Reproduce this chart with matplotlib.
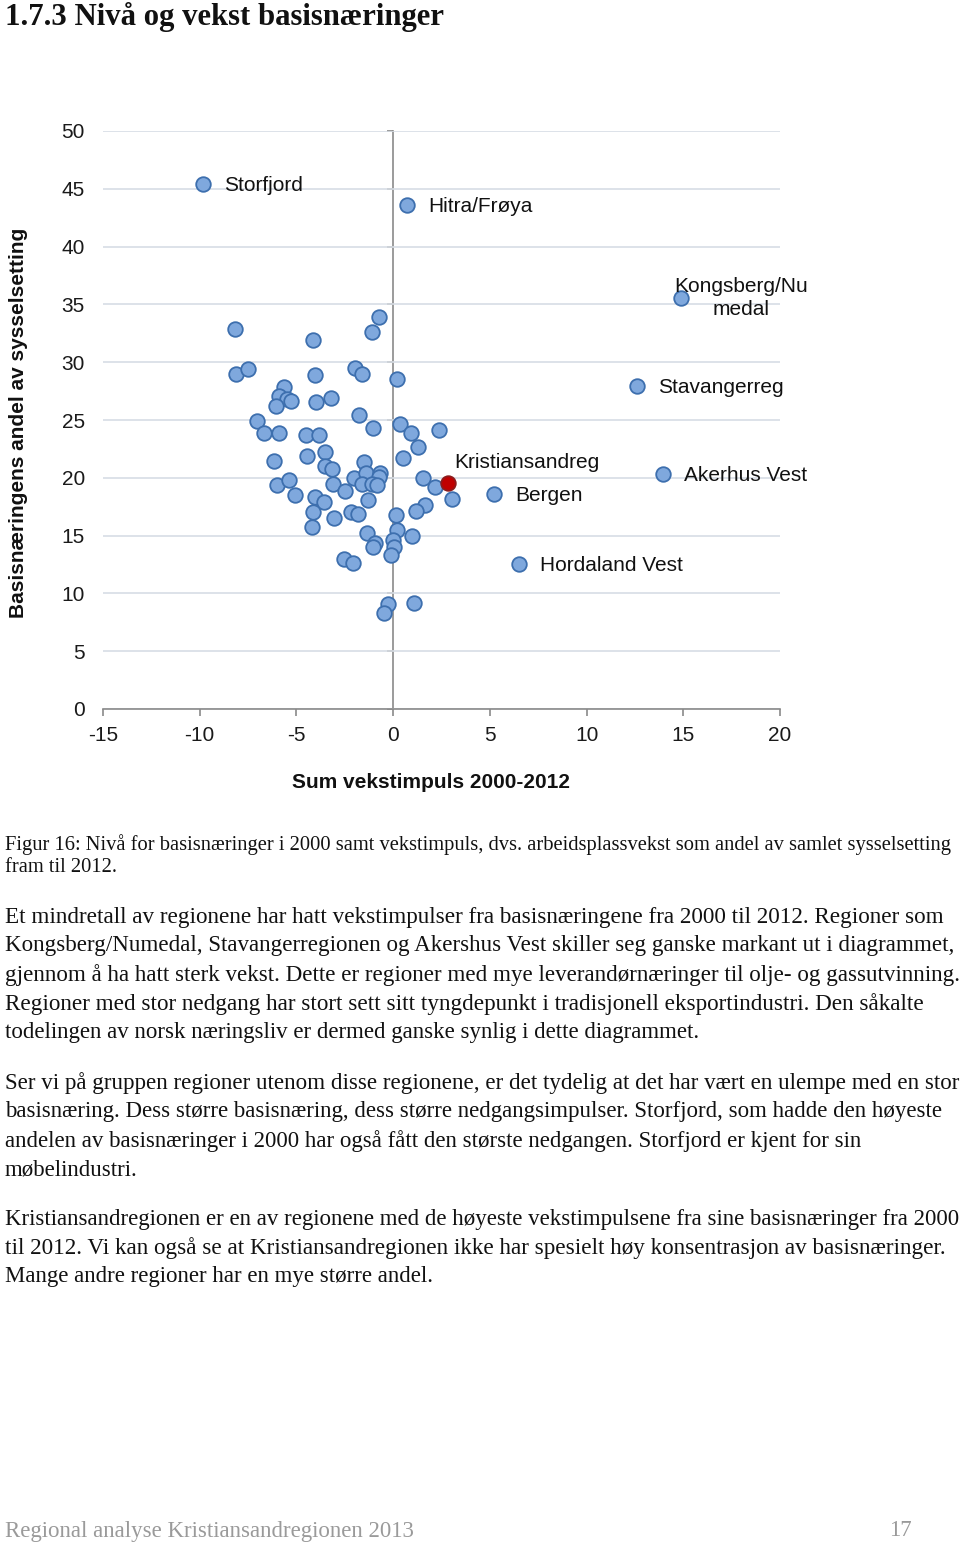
import matplotlib
matplotlib.use("Agg")
import matplotlib.pyplot as plt

plt.rcParams["axes.unicode_minus"] = False

# ---------------- data ----------------
# unlabeled regions: (vekstimpuls, andel basisnæringer)
other_x = [-8.17, -4.14, -0.71, -1.09, -8.12, -7.48, -4.03, -1.96, -1.59, 0.21,
           -5.65, -5.91, -5.50, -5.29, -6.07, -3.97, -3.21, -1.74, -1.05, -7.03,
           -6.67, -5.91, -4.48, -3.81, 0.33, 0.92, 1.31, 2.39, -6.14, -4.43,
           -3.50, -3.50, -3.17, -1.50, 0.50, -2.02, -1.41, -0.67, -0.71, -1.62,
           -1.10, -0.84, -3.12, -2.48, -6.01, -5.39, -5.07, -4.03, -3.60, -4.14,
           -4.20, -3.05, -1.31, -2.19, -1.83, 1.53, 2.14, 3.05, 1.65, 1.19,
           0.13, 0.21, -1.33, -0.93, -1.05, -0.02, 0.02, -0.12, 1.00, -2.53,
           -2.08, -0.26, -0.47, 1.10]
other_y = [32.85, 31.92, 33.94, 32.64, 28.98, 29.39, 28.89, 29.52, 28.95, 28.57,
           27.83, 27.08, 26.79, 26.64, 26.21, 26.58, 26.88, 25.46, 24.28, 24.94,
           23.88, 23.88, 23.73, 23.73, 24.65, 23.85, 22.69, 24.13, 21.48, 21.89,
           22.26, 21.05, 20.76, 21.37, 21.69, 20.01, 20.39, 20.39, 20.10, 19.46,
           19.44, 19.40, 19.44, 18.88, 19.40, 19.78, 18.51, 18.37, 17.91, 17.04,
           15.77, 16.50, 18.05, 17.02, 16.89, 19.96, 19.18, 18.14, 17.62, 17.13,
           16.74, 15.48, 15.20, 14.33, 13.99, 14.62, 13.99, 13.35, 14.97, 12.95,
           12.60, 9.08, 8.28, 9.20]

labeled_names = ["Storfjord", "Hitra/Frøya", "Kongsberg/Nu\nmedal", "Stavangerreg",
                 "Akerhus Vest", "Bergen", "Hordaland Vest"]
labeled_x = [-9.82, 0.72, 14.89, 12.62, 13.96, 5.22, 6.51]
labeled_y = [45.4, 43.6, 35.55, 27.94, 20.33, 18.6, 12.54]

highlight_name = "Kristiansandreg"
highlight_x = [2.82]
highlight_y = [19.55]

x_ticks = [-15, -10, -5, 0, 5, 10, 15, 20]
y_ticks = [0, 5, 10, 15, 20, 25, 30, 35, 40, 45, 50]

title = "1.7.3 Nivå og vekst basisnæringer"
caption = ["Figur 16: Nivå for basisnæringer i 2000 samt vekstimpuls, dvs. arbeidsplassvekst som andel av samlet sysselsetting",
           "fram til 2012."]
paragraphs = [
    ["Et mindretall av regionene har hatt vekstimpulser fra basisnæringene fra 2000 til 2012. Regioner som",
     "Kongsberg/Numedal, Stavangerregionen og Akershus Vest skiller seg ganske markant ut i diagrammet,",
     "gjennom å ha hatt sterk vekst. Dette er regioner med mye leverandørnæringer til olje- og gassutvinning.",
     "Regioner med stor nedgang har stort sett sitt tyngdepunkt i tradisjonell eksportindustri. Den såkalte",
     "todelingen av norsk næringsliv er dermed ganske synlig i dette diagrammet."],
    ["Ser vi på gruppen regioner utenom disse regionene, er det tydelig at det har vært en ulempe med en stor",
     "basisnæring. Dess større basisnæring, dess større nedgangsimpulser. Storfjord, som hadde den høyeste",
     "andelen av basisnæringer i 2000 har også fått den største nedgangen. Storfjord er kjent for sin",
     "møbelindustri."],
    ["Kristiansandregionen er en av regionene med de høyeste vekstimpulsene fra sine basisnæringer fra 2000",
     "til 2012. Vi kan også se at Kristiansandregionen ikke har spesielt høy konsentrasjon av basisnæringer.",
     "Mange andre regioner har en mye større andel."],
]
footer_left = "Regional analyse Kristiansandregionen 2013"
footer_right = "17"

# ---------------- figure ----------------
W, H = 960, 1543
fig = plt.figure(figsize=(W / 100, H / 100), dpi=100)
renderer = fig.canvas.get_renderer()


def fx(x):
    return x / W


def fy(y):
    return 1 - y / H


SANS = ["Liberation Sans", "DejaVu Sans"]
SERIF = ["Liberation Serif", "DejaVu Serif"]


def text_width(text, size, family, weight="normal"):
    t = fig.text(0, 0, text, fontsize=size, family=family, weight=weight)
    w = t.get_window_extent(renderer).width
    t.remove()
    return w


def fit_size(text, target_w, family, weight="normal", base=12.0):
    return base * target_w / text_width(text, base, family, weight)


# axes: plot area
left, right, top, bottom = 103, 780, 131, 709
ax = fig.add_axes([fx(left), fy(bottom), (right - left) / W, (bottom - top) / H])
ax.set_xlim(-15, 20)
ax.set_ylim(0, 50)

grid_c = "#d7dde5"
axis_c = "#8a8a8a"
ax.set_yticks(y_ticks)
ax.set_xticks(x_ticks)
ax.yaxis.grid(True, color=grid_c, lw=1.2, zorder=0)
ax.set_axisbelow(True)
for s in ["top", "right", "left"]:
    ax.spines[s].set_visible(False)
ax.spines["bottom"].set_color(axis_c)
ax.spines["bottom"].set_linewidth(1.2)
ax.tick_params(axis="y", length=0, pad=13, labelsize=15, labelcolor="#1a1a1a")
ax.tick_params(axis="x", length=5, width=1.2, color=axis_c, pad=7.5, labelsize=15,
               labelcolor="#1a1a1a")
for lab in ax.get_xticklabels() + ax.get_yticklabels():
    lab.set_family(SANS)

# vertical axis crossing at x = 0
sec = ax.secondary_yaxis(0, transform=ax.transData)
sec.set_yticks(y_ticks)
sec.set_yticklabels([])
sec.tick_params(axis="y", length=4, width=1.2, color=axis_c, direction="out")
sec.spines["left"].set_color(axis_c)
sec.spines["left"].set_linewidth(1.2)

face = "#7fa8dd"
edge = "#3d6fae"
ms = 10.5
ax.plot(other_x, other_y, "o", ms=ms, mfc=face, mec=edge, mew=1.3, ls="none",
        zorder=3, clip_on=False)
ax.plot(labeled_x, labeled_y, "o", ms=ms, mfc=face, mec=edge, mew=1.3, ls="none",
        zorder=3, clip_on=False)
ax.plot(highlight_x, highlight_y, "o", ms=ms, mfc="#c00000", mec="#8e1b1b", mew=1.3,
        ls="none", zorder=4, clip_on=False)

for name, x, y in zip(labeled_names, labeled_x, labeled_y):
    if "\n" in name:
        ax.annotate(name, (x, y), xytext=(43, 0), textcoords="offset points",
                    ha="center", va="center", fontsize=15, family=SANS,
                    multialignment="center", linespacing=1.25, color="#111",
                    zorder=5, annotation_clip=False)
    else:
        ax.annotate(name, (x, y), xytext=(15, -1), textcoords="offset points",
                    ha="left", va="center", fontsize=15, family=SANS, color="#111",
                    zorder=5, annotation_clip=False)
ax.annotate(highlight_name, (highlight_x[0], highlight_y[0]), xytext=(5, 14.5),
            textcoords="offset points", ha="left", va="center", fontsize=15,
            family=SANS, color="#111", zorder=5)

# axis titles
fig.text(fx(19), fy(423), "Basisnæringens andel av sysselsetting", rotation=90,
         ha="center", va="center", fontsize=15, weight="bold", family=SANS, color="#111")
fig.text(fx(431), fy(783), "Sum vekstimpuls 2000-2012", ha="center", va="center",
         fontsize=15, weight="bold", family=SANS, color="#111")

# ---------------- page text ----------------
ts = fit_size(title, 438, SERIF, "bold")
fig.text(fx(5), fy(17), title, ha="left", va="center", fontsize=ts, weight="bold",
         family=SERIF, color="#111")

cs = fit_size(caption[0], 948, SERIF)
for i, line in enumerate(caption):
    fig.text(fx(5), fy(845 + 22 * i), line, ha="left", va="center", fontsize=cs,
             family=SERIF, color="#111")

# right edges of the full body lines in the reference page (layout)
full_right = {(0, 0): 940, (0, 1): 950, (0, 2): 955, (0, 3): 923,
              (1, 0): 955, (1, 1): 942, (2, 0): 957, (2, 1): 942}
sizes = {k: fit_size(paragraphs[k[0]][k[1]], v - 5, SERIF) for k, v in full_right.items()}
base_bs = min(sizes.values())
starts = [917, 1083, 1219]
for pi, (p, y0) in enumerate(zip(paragraphs, starts)):
    for i, line in enumerate(p):
        s = sizes.get((pi, i), base_bs)
        fig.text(fx(5), fy(y0 + 28.9 * i), line, ha="left", va="center", fontsize=s,
                 family=SERIF, color="#111")

fs = fit_size(footer_left, 408, SERIF)
fig.text(fx(5), fy(1531), footer_left, ha="left", va="center", fontsize=fs,
         family=SERIF, color="#9a9a9a")
fig.text(fx(912), fy(1531), footer_right, ha="right", va="center", fontsize=fs,
         family=SERIF, color="#9a9a9a")

fig.savefig("out.png", dpi=100, facecolor="white")
